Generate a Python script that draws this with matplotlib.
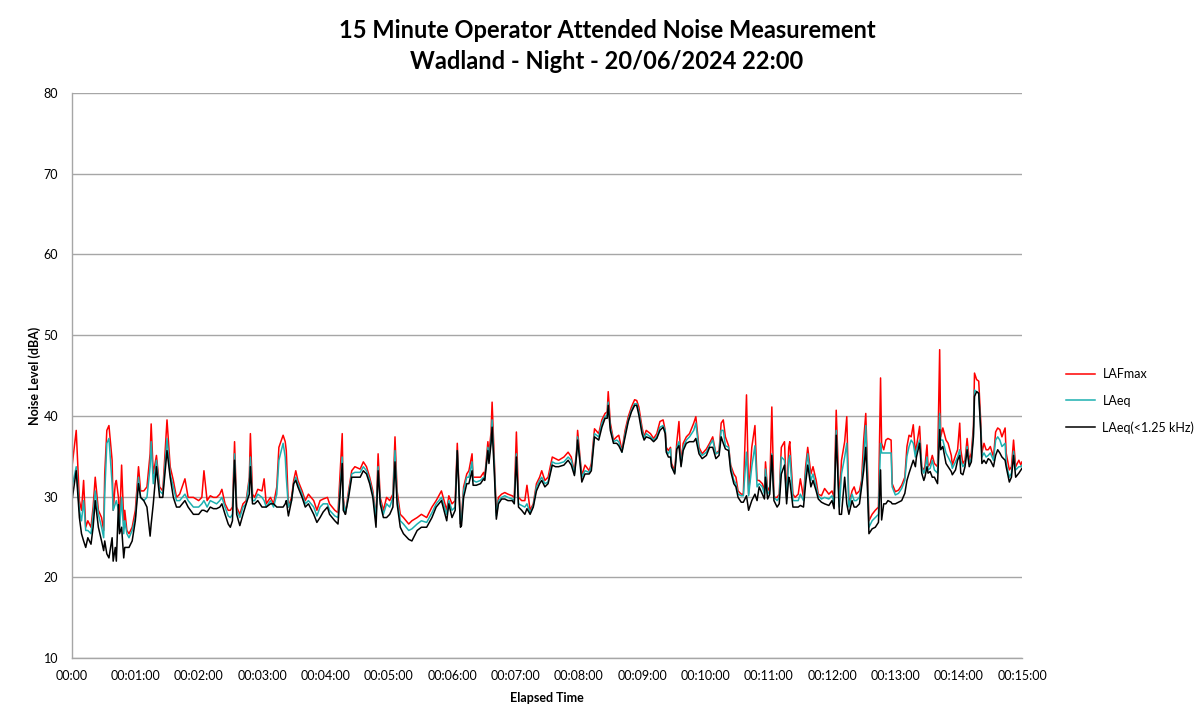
import matplotlib
matplotlib.use("Agg")
import matplotlib.pyplot as plt
from matplotlib.lines import Line2D

# ---- data (elapsed seconds, dBA) ----
elapsed_s = [0, 4, 7, 9, 11, 13, 15, 18, 20, 22, 25, 28, 30, 31, 33, 35, 38, 39, 41, 42,
             44, 45, 47, 49, 50, 52, 54, 57, 60, 63, 65, 68, 71, 74, 75, 77, 80, 83, 86, 90,
             93, 96, 99, 102, 107, 110, 115, 120, 123, 125, 128, 131, 134, 137, 140, 142, 145, 148, 150, 152,
             154, 156, 159, 162, 165, 168, 169, 171, 173, 176, 180, 182, 184, 188, 191, 194, 196, 200, 202, 203,
             205, 208, 210, 212, 214, 218, 221, 224, 229, 232, 235, 238, 242, 244, 249, 252, 256, 257, 259, 262,
             265, 268, 273, 276, 279, 282, 285, 288, 290, 292, 295, 298, 301, 304, 306, 308, 311, 314, 319, 322,
             327, 331, 336, 341, 345, 350, 355, 357, 360, 363, 365, 368, 369, 371, 374, 376, 379, 380, 383, 387,
             390, 391, 394, 395, 397, 398, 400, 402, 404, 407, 410, 413, 417, 419, 421, 423, 426, 429, 431, 434,
             437, 440, 443, 445, 448, 451, 455, 458, 461, 466, 470, 473, 476, 478, 479, 481, 483, 486, 490, 492,
             495, 499, 502, 505, 507, 508, 510, 513, 516, 518, 521, 524, 527, 530, 533, 535, 537, 540, 542, 544,
             548, 551, 554, 557, 560, 562, 563, 565, 567, 568, 571, 573, 575, 577, 579, 582, 585, 589, 591, 594,
             597, 601, 604, 607, 610, 613, 615, 617, 619, 622, 624, 627, 629, 631, 634, 636, 639, 641, 644, 647,
             649, 651, 654, 656, 657, 659, 661, 663, 665, 668, 670, 672, 675, 677, 679, 680, 683, 685, 688, 690,
             693, 695, 697, 700, 702, 705, 707, 710, 713, 717, 720, 722, 724, 727, 729, 732, 734, 736, 739, 741,
             743, 746, 748, 750, 752, 754, 755, 758, 761, 764, 766, 767, 769, 771, 773, 776, 777, 780, 783, 786,
             789, 791, 793, 795, 797, 799, 800, 803, 805, 807, 808, 810, 811, 813, 815, 817, 820, 822, 823, 825,
             828, 830, 833, 834, 837, 839, 841, 842, 844, 846, 848, 850, 852, 854, 855, 857, 859, 861, 862, 864,
             866, 868, 870, 873, 875, 877, 879, 881, 884, 885, 888, 890, 892, 894, 897, 899, 900]

lafmax = [33.7, 38.2, 29.5, 28.3, 32.0, 26.2, 27.0, 26.2, 28.7, 32.4, 28.3, 27.4, 25.8, 32.8, 38.2, 38.8, 34.5, 28.3, 31.6, 32.0,
          29.9, 26.2, 33.9, 27.0, 28.3, 25.8, 25.4, 26.2, 28.3, 33.7, 30.7, 30.7, 31.2, 35.3, 39.0, 32.8, 35.1, 31.2, 30.7, 39.5,
          33.7, 32.0, 29.9, 30.3, 32.2, 29.9, 29.9, 29.5, 29.9, 33.2, 29.5, 30.1, 29.9, 29.9, 30.3, 30.9, 29.1, 28.3, 28.3, 28.7,
          36.8, 28.7, 27.8, 29.1, 29.5, 32.4, 37.8, 30.3, 29.9, 30.9, 30.7, 32.2, 29.1, 29.9, 29.1, 31.2, 36.1, 37.6, 36.8, 35.7,
          28.7, 29.9, 32.0, 33.2, 32.0, 30.7, 29.5, 30.3, 29.5, 28.3, 29.5, 29.7, 29.9, 29.1, 28.3, 28.0, 37.8, 29.9, 27.8, 30.7,
          33.2, 33.7, 33.4, 34.3, 33.7, 32.4, 30.7, 27.4, 35.3, 29.9, 28.3, 29.9, 29.5, 30.3, 37.4, 30.7, 27.8, 27.4, 26.6, 27.0,
          27.4, 27.8, 27.4, 28.7, 29.5, 30.7, 28.3, 30.1, 29.1, 29.5, 36.6, 26.6, 27.4, 31.2, 32.8, 33.2, 35.3, 32.4, 32.4, 32.4,
          33.0, 32.4, 36.8, 35.3, 38.0, 41.7, 34.9, 28.0, 29.9, 30.3, 30.5, 30.3, 30.1, 29.9, 38.0, 29.9, 29.5, 29.5, 31.4, 28.3,
          29.1, 31.6, 32.4, 33.2, 32.0, 32.4, 34.9, 34.7, 34.5, 34.9, 35.5, 34.9, 33.0, 35.7, 38.2, 35.3, 32.6, 33.9, 33.2, 34.1,
          38.4, 37.8, 39.5, 40.3, 40.5, 43.0, 39.1, 37.0, 37.4, 37.6, 35.7, 38.2, 39.9, 41.1, 42.0, 41.9, 41.1, 38.6, 37.4, 38.2,
          37.8, 37.2, 37.8, 39.3, 39.5, 38.2, 36.1, 35.7, 36.1, 34.1, 33.2, 36.8, 39.3, 34.1, 36.6, 37.4, 37.8, 39.1, 39.9, 36.1,
          35.3, 35.9, 36.6, 37.4, 35.3, 35.7, 39.1, 39.5, 37.4, 36.3, 33.9, 32.8, 32.4, 30.7, 30.3, 30.3, 42.6, 30.3, 36.1, 38.8,
          32.0, 32.0, 31.6, 30.7, 34.3, 30.7, 31.2, 41.1, 29.9, 29.9, 30.3, 36.1, 36.8, 29.9, 36.1, 36.8, 30.3, 29.9, 30.3, 32.2,
          29.9, 33.7, 36.1, 32.8, 33.7, 32.0, 30.3, 30.1, 31.0, 30.3, 30.7, 29.9, 40.7, 29.5, 34.5, 36.8, 39.9, 29.1, 30.7, 31.2,
          30.3, 30.7, 32.0, 37.0, 40.3, 32.0, 27.0, 27.8, 28.3, 28.7, 44.7, 36.6, 35.8, 37.0, 37.2, 37.0, 31.6, 30.6, 30.8, 31.4,
          32.4, 36.2, 37.6, 37.4, 38.9, 35.4, 36.2, 38.7, 33.7, 33.3, 33.7, 36.4, 33.7, 34.1, 35.1, 34.1, 33.7, 48.2, 37.4, 38.5,
          37.0, 36.6, 35.1, 33.9, 35.1, 35.8, 39.1, 35.8, 34.1, 34.5, 37.2, 34.5, 35.4, 38.7, 45.3, 44.5, 44.3, 39.1, 35.4, 36.6,
          35.8, 35.8, 36.2, 34.9, 38.0, 38.5, 38.3, 37.4, 38.5, 35.4, 33.3, 33.7, 37.0, 33.7, 34.5, 33.9, 34.3]

laeq = [31.2, 33.7, 28.3, 27.0, 29.5, 25.8, 25.8, 25.4, 27.8, 30.7, 27.8, 26.2, 24.9, 30.3, 36.6, 37.2, 31.6, 28.3, 29.1, 29.5,
        28.3, 25.8, 29.9, 25.4, 27.0, 25.4, 24.9, 25.8, 27.4, 32.4, 29.9, 29.5, 29.9, 33.7, 36.8, 31.6, 34.5, 30.7, 30.3, 37.2,
        32.8, 31.2, 29.5, 29.5, 30.3, 29.5, 28.7, 28.7, 29.1, 29.5, 28.7, 29.5, 29.3, 29.1, 29.5, 29.9, 28.7, 27.6, 27.4, 27.8,
        35.3, 28.3, 27.4, 28.7, 29.1, 32.0, 34.9, 29.5, 29.5, 30.3, 29.9, 29.5, 28.7, 29.5, 28.7, 30.3, 34.5, 36.6, 34.9, 32.4,
        28.7, 29.5, 31.6, 32.4, 31.6, 30.3, 29.1, 29.5, 28.7, 27.6, 28.7, 29.1, 29.1, 28.3, 27.6, 27.4, 34.9, 29.5, 27.8, 30.3,
        32.8, 33.0, 33.0, 33.7, 33.2, 32.0, 30.3, 27.4, 33.7, 29.5, 27.8, 29.1, 28.7, 29.9, 35.7, 29.9, 27.0, 26.6, 25.8, 26.0,
        26.6, 27.0, 26.8, 28.0, 29.1, 29.9, 27.8, 29.5, 28.3, 28.7, 35.7, 26.6, 27.0, 30.7, 32.4, 32.4, 34.3, 32.0, 31.8, 32.0,
        32.4, 32.2, 36.1, 34.9, 37.0, 39.5, 34.1, 27.6, 29.5, 29.9, 30.1, 29.9, 29.7, 29.5, 35.3, 29.1, 28.9, 28.7, 29.1, 28.0,
        28.9, 31.2, 32.0, 32.4, 31.6, 31.8, 34.3, 34.1, 34.1, 34.3, 34.9, 34.5, 32.8, 35.3, 37.4, 34.9, 32.4, 33.2, 33.0, 33.7,
        37.8, 37.4, 39.1, 39.9, 40.1, 41.7, 38.6, 36.8, 37.0, 36.8, 35.5, 37.8, 39.5, 40.7, 41.5, 41.5, 40.5, 38.2, 37.2, 37.8,
        37.4, 37.0, 37.4, 38.6, 38.8, 38.2, 35.7, 35.3, 35.9, 33.7, 33.0, 36.1, 36.8, 33.9, 36.1, 37.0, 37.4, 38.2, 39.1, 35.7,
        35.1, 35.5, 36.3, 37.0, 35.3, 35.5, 38.2, 38.2, 36.3, 36.1, 33.7, 32.0, 31.6, 30.3, 30.1, 30.1, 35.5, 30.1, 33.7, 36.3,
        31.2, 31.6, 31.2, 30.3, 33.4, 30.3, 30.7, 35.3, 29.9, 29.5, 29.9, 34.9, 34.5, 29.7, 34.5, 35.1, 29.5, 29.5, 29.5, 30.3,
        29.5, 32.8, 35.3, 32.0, 32.8, 31.2, 30.1, 29.7, 29.9, 29.7, 30.1, 29.1, 38.2, 28.7, 32.8, 34.9, 36.6, 28.7, 30.3, 29.5,
        29.5, 29.9, 31.6, 34.5, 38.8, 30.7, 26.2, 27.0, 27.4, 27.8, 36.6, 35.4, 35.4, 35.4, 35.4, 35.4, 31.2, 30.2, 30.4, 31.0,
        32.0, 35.0, 36.2, 37.0, 36.6, 34.9, 35.8, 37.0, 33.7, 32.9, 33.3, 34.9, 33.3, 33.5, 34.5, 33.3, 32.9, 40.3, 37.0, 37.0,
        35.4, 34.9, 34.1, 33.5, 34.3, 34.9, 35.8, 34.5, 33.7, 34.1, 36.2, 34.1, 34.7, 37.8, 43.2, 43.0, 42.8, 38.3, 34.9, 35.4,
        34.9, 35.1, 35.4, 34.5, 37.0, 37.4, 37.0, 36.2, 36.6, 34.1, 32.4, 32.9, 35.6, 33.3, 33.7, 33.7, 33.9]

laeq_low = [29.5, 33.2, 27.4, 25.4, 24.5, 23.7, 24.9, 24.1, 26.2, 29.5, 26.2, 24.5, 23.3, 24.5, 22.9, 22.4, 24.9, 22.0, 23.7, 22.0,
            29.0, 25.4, 26.2, 22.4, 23.7, 23.7, 23.7, 24.5, 27.0, 31.6, 29.9, 29.5, 28.7, 25.1, 26.6, 29.1, 33.7, 29.9, 29.9, 35.7,
            32.4, 29.9, 28.7, 28.7, 29.5, 28.7, 27.8, 27.8, 28.3, 28.3, 28.1, 28.7, 28.5, 28.5, 28.7, 29.1, 27.8, 26.6, 26.2, 27.0,
            34.5, 27.8, 26.4, 27.8, 29.1, 30.3, 33.7, 29.1, 29.1, 29.5, 28.7, 28.7, 28.7, 29.1, 29.1, 28.7, 28.7, 28.7, 29.1, 29.5,
            27.6, 29.5, 31.6, 32.0, 31.2, 29.9, 28.7, 29.1, 27.8, 26.8, 27.4, 28.1, 28.7, 27.8, 27.0, 26.6, 34.1, 28.3, 27.8, 29.9,
            32.4, 32.4, 32.4, 33.2, 32.8, 31.6, 29.9, 26.2, 33.2, 29.1, 27.4, 27.4, 27.8, 28.7, 34.3, 29.1, 26.2, 25.4, 24.7, 24.5,
            25.8, 26.2, 26.2, 27.4, 28.7, 29.5, 27.0, 29.1, 27.4, 28.3, 35.7, 26.2, 26.4, 29.9, 31.6, 31.6, 33.2, 31.4, 31.4, 31.6,
            32.2, 32.0, 35.7, 34.1, 36.6, 38.6, 33.2, 27.2, 29.1, 29.7, 29.7, 29.5, 29.5, 29.1, 34.9, 28.7, 28.3, 27.8, 28.5, 27.8,
            28.7, 30.7, 31.6, 32.0, 31.2, 31.6, 33.9, 33.7, 33.7, 33.9, 34.5, 33.9, 32.6, 35.1, 37.0, 34.5, 31.8, 32.8, 32.8, 33.2,
            37.4, 37.0, 38.6, 39.7, 39.7, 41.3, 38.2, 36.6, 36.6, 36.3, 35.5, 37.4, 39.3, 40.5, 41.3, 41.3, 40.1, 37.8, 37.0, 37.4,
            37.2, 36.8, 37.2, 38.2, 38.6, 37.8, 35.5, 34.9, 34.9, 33.7, 32.8, 35.9, 36.3, 33.7, 35.7, 36.6, 36.8, 36.8, 37.2, 35.3,
            34.7, 35.1, 36.1, 36.1, 34.7, 35.1, 37.4, 36.6, 35.9, 35.7, 33.2, 31.6, 31.2, 29.9, 29.3, 29.3, 30.1, 28.3, 29.5, 30.3,
            29.5, 31.2, 30.3, 29.7, 32.4, 29.7, 30.3, 35.1, 29.5, 28.7, 29.1, 32.8, 33.9, 29.1, 32.4, 32.0, 28.7, 28.7, 28.7, 28.9,
            28.7, 31.6, 33.9, 31.2, 32.0, 30.7, 29.7, 29.3, 29.1, 28.9, 29.5, 28.5, 37.6, 27.8, 27.8, 32.4, 29.1, 27.8, 29.5, 28.7,
            28.7, 29.1, 31.2, 33.2, 36.1, 29.5, 25.4, 26.0, 26.2, 26.8, 33.3, 27.1, 29.1, 29.1, 29.5, 29.3, 29.1, 29.1, 29.3, 29.5,
            30.4, 32.0, 32.9, 33.7, 34.5, 33.7, 34.9, 36.6, 32.9, 32.0, 32.4, 33.7, 32.9, 33.1, 32.4, 32.4, 31.6, 38.3, 35.8, 36.2,
            34.1, 33.7, 33.1, 32.7, 33.3, 34.5, 35.1, 32.9, 32.7, 33.7, 35.8, 33.7, 34.3, 37.4, 42.4, 43.0, 42.8, 37.8, 34.1, 34.5,
            34.1, 34.7, 34.5, 33.7, 35.1, 35.8, 35.4, 34.9, 34.5, 33.7, 31.8, 32.4, 35.1, 32.4, 32.9, 33.3, 33.5]

series_names = ["LAFmax", "LAeq", "LAeq(<1.25 kHz)"]
series_colors = ["#FF0000", "#1DB0B0", "#000000"]
tick_seconds = list(range(0, 901, 60))
tick_labels = ["00:00"] + ["00:%02d:00" % m for m in range(1, 16)]
y_ticks = [10, 20, 30, 40, 50, 60, 70, 80]

title_text = "15 Minute Operator Attended Noise Measurement\nWadland - Night - 20/06/2024 22:00"

plt.rcParams['font.family'] = ['Lato', 'DejaVu Sans']

fig = plt.figure(figsize=(12.03, 7.22), dpi=100)
ax = fig.add_axes([72 / 1203, 64 / 722, 950 / 1203, 565 / 722])

for vals, name, col in zip([lafmax, laeq, laeq_low], series_names, series_colors):
    ax.plot(elapsed_s, vals, color=col, lw=1.1, label=name)

ax.set_xlim(0, 900)
ax.set_ylim(10, 80)
ax.set_yticks(y_ticks)
ax.set_xticks(tick_seconds)
ax.set_xticklabels(tick_labels)
ax.tick_params(axis='both', length=0, labelsize=9, colors='#000000')
ax.tick_params(axis='y', pad=10)
ax.tick_params(axis='x', pad=9)
ax.grid(axis='y', color='#A6A6A6', lw=1.0)
ax.set_axisbelow(True)
for s in ['top', 'right']:
    ax.spines[s].set_visible(False)
for s in ['left', 'bottom']:
    ax.spines[s].set_color('#A6A6A6')
    ax.spines[s].set_linewidth(1.0)

ax.set_ylabel("Noise Level (dBA)", fontsize=9, fontweight='bold', labelpad=2)
ax.set_xlabel("Elapsed Time", fontsize=9, fontweight='bold', labelpad=7)

fig.text(607 / 1203, 1 - 46 / 722, title_text, ha='center', va='center',
         fontsize=17, fontweight='bold', linespacing=1.45)

handles = [Line2D([0], [0], color=c, lw=1.1) for c in series_colors]
fig.legend(handles, series_names, loc='center left', bbox_to_anchor=(1055 / 1203, 1 - 401 / 722),
           frameon=False, fontsize=9, handlelength=2.3, labelspacing=1.15, handletextpad=0.6)

fig.savefig("out.png", dpi=100)
